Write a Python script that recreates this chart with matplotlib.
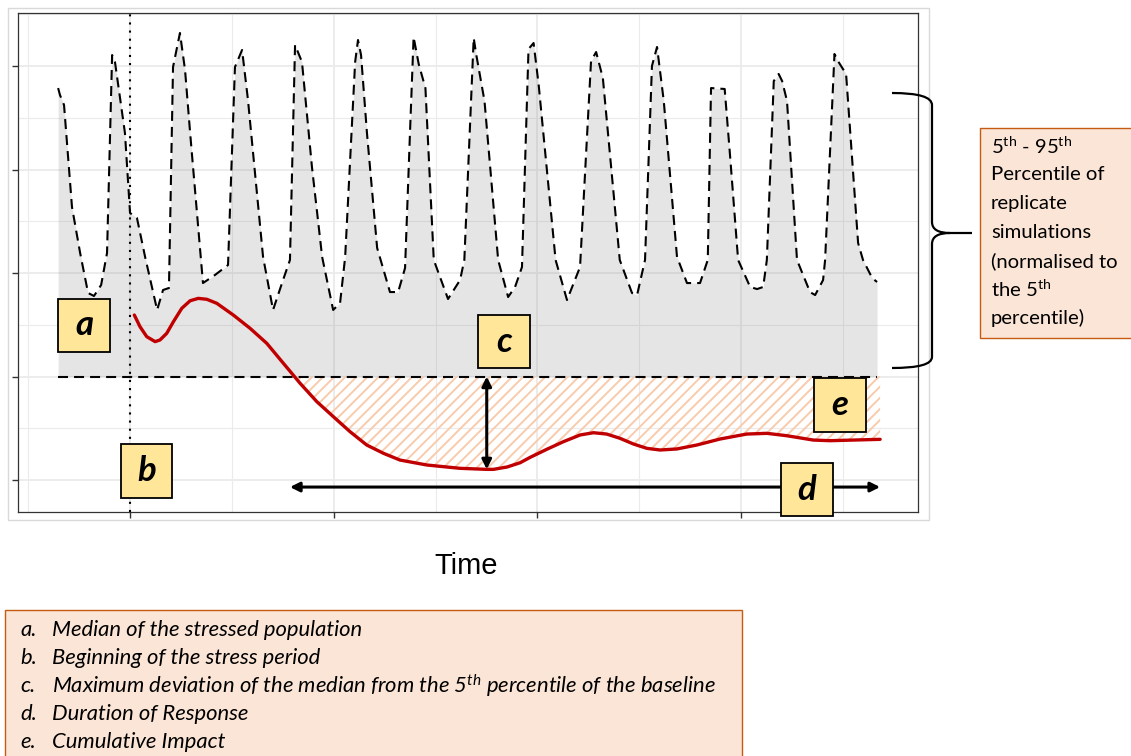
import numpy as np
import matplotlib
matplotlib.use("Agg")
import matplotlib.pyplot as plt
from matplotlib.patches import Rectangle, PathPatch
from matplotlib.path import Path

plt.rcParams['mathtext.fontset'] = 'custom'
plt.rcParams['mathtext.rm'] = 'Lato'
plt.rcParams['mathtext.it'] = 'Lato:italic'
plt.rcParams['hatch.linewidth'] = 1.4

# 95th percentile of the replicate simulations (top of the ribbon)
upper_t = [-0.353, -0.344, -0.324, -0.285, -0.245, -0.206, -0.177, -0.142, -0.113,
           -0.088, -0.074, -0.025, 0.000, 0.034, 0.074, 0.133, 0.162, 0.191,
           0.211, 0.245, 0.270, 0.295, 0.358, 0.417, 0.481,
           0.515, 0.550, 0.579, 0.653, 0.702, 0.751, 0.785,
           0.810, 0.844, 0.893, 0.943, 0.997, 1.031, 1.056, 1.105,
           1.119, 1.134, 1.163, 1.213, 1.276, 1.316, 1.350, 1.375,
           1.392, 1.417, 1.450, 1.491, 1.561, 1.620, 1.641,
           1.687, 1.699, 1.740, 1.807, 1.856, 1.890, 1.924,
           1.956, 1.981, 2.006, 2.089, 2.145, 2.209,
           2.263, 2.288, 2.321, 2.404, 2.464, 2.489, 2.528,
           2.562, 2.587, 2.620, 2.685, 2.734, 2.798, 2.836,
           2.852, 2.919, 2.944, 2.985, 3.044, 3.078, 3.108, 3.126,
           3.160, 3.184, 3.201, 3.225, 3.274, 3.338, 3.363, 3.402, 3.412,
           3.458, 3.475, 3.515, 3.574, 3.598, 3.643, 3.667]
upper_v = [3.787, 3.720, 3.623, 2.638, 2.193, 1.807, 1.778, 1.884, 2.193,
           4.106, 4.039, 3.353, 2.580, 2.531, 2.155, 1.643, 1.836, 1.855,
           3.990, 4.319, 3.961, 3.353, 1.903, 1.981, 2.077,
           3.990, 4.155, 3.671, 2.155, 1.643, 1.932, 2.126,
           4.203, 4.039, 3.024, 2.155, 1.643, 1.710, 2.155, 4.039,
           4.251, 4.106, 3.353, 2.242, 1.816, 1.816, 2.048, 3.396,
           4.280, 4.019, 3.787, 2.126, 1.749, 1.932, 2.126,
           4.271, 4.116, 3.662, 2.126, 1.768, 1.865, 2.058,
           4.164, 4.222, 3.816, 2.126, 1.739, 2.058,
           4.048, 4.135, 3.884, 2.126, 1.807, 1.787, 2.126,
           4.000, 4.184, 3.662, 2.155, 1.903, 1.903, 2.126,
           3.787, 3.778, 3.169, 2.126, 1.865, 1.845, 1.865, 2.126,
           3.855, 3.923, 3.855, 3.662, 2.126, 1.816, 1.787, 1.932, 2.126,
           4.116, 4.048, 3.923, 2.290, 2.126, 1.952, 1.913]

# 5th percentile of the baseline (bottom of the ribbon)
p5_level = 1.0
p5_span = [-0.353, 3.667]

# median of the stressed population
median_t = [0.021, 0.049, 0.082, 0.123, 0.147, 0.180, 0.213, 0.254, 0.295, 0.335,
            0.377, 0.426, 0.507, 0.589, 0.671, 0.753, 0.835, 0.917, 0.998, 1.080,
            1.162, 1.244, 1.325, 1.457, 1.620, 1.751, 1.784, 1.851, 1.915, 1.964,
            2.046, 2.127, 2.209, 2.275, 2.340, 2.405, 2.471, 2.537, 2.602, 2.684,
            2.782, 2.896, 3.027, 3.126, 3.224, 3.354, 3.436, 3.682]
median_v = [1.594, 1.481, 1.385, 1.337, 1.353, 1.417, 1.530, 1.659, 1.732, 1.755,
            1.746, 1.707, 1.594, 1.466, 1.321, 1.127, 0.934, 0.757, 0.612, 0.467,
            0.338, 0.258, 0.193, 0.145, 0.113, 0.103, 0.103, 0.126, 0.167, 0.219,
            0.297, 0.370, 0.435, 0.457, 0.444, 0.403, 0.348, 0.306, 0.290, 0.300,
            0.338, 0.396, 0.444, 0.451, 0.428, 0.386, 0.380, 0.393]

stress_start = 0.0
response_span = [0.785, 3.682]

x_major = [0, 1, 2, 3]
x_minor = [-0.5, 0.5, 1.5, 2.5, 3.5]
y_major = [0, 1, 2, 3, 4]
y_minor = [0.5, 1.5, 2.5, 3.5, 4.5]

legend_items = [
    ("a.", "Median of the stressed population"),
    ("b.", "Beginning of the stress period"),
    ("c.", r"Maximum deviation of the median from the 5$^{\mathit{th}}$ percentile of the baseline"),
    ("d.", "Duration of Response"),
    ("e.", "Cumulative Impact"),
]
side_note = [r"5$^{\mathrm{th}}$ - 95$^{\mathrm{th}}$", "Percentile of", "replicate",
             "simulations", "(normalised to", r"the 5$^{\mathrm{th}}$", "percentile)"]

W, H = 1131, 756
fig = plt.figure(figsize=(W / 100, H / 100), dpi=100)
ax = fig.add_axes([18 / W, (H - 512) / H, 900 / W, 499.3 / H])
ax.set_xlim(-0.55, 3.868)
ax.set_ylim(-0.309, 4.515)

ax.set_xticks(x_major)
ax.set_xticks(x_minor, minor=True)
ax.set_yticks(y_major)
ax.set_yticks(y_minor, minor=True)
ax.grid(which='major', color='#ebebeb', lw=1.3)
ax.grid(which='minor', color='#ebebeb', lw=0.8)
ax.set_axisbelow(True)
ax.tick_params(which='major', length=4, width=1, color='#333333',
               labelbottom=False, labelleft=False)
ax.tick_params(which='minor', length=0)
for s in ax.spines.values():
    s.set_color('#333333')
    s.set_linewidth(0.9)

# ribbon between the 5th and 95th percentiles
ax.fill_between(upper_t, p5_level, upper_v, color='#808080', alpha=0.2, lw=0, zorder=1)
dash = (4.8, 2.9)
ax.plot(upper_t, upper_v, color='black', lw=1.5, dashes=dash, zorder=3)
ax.plot(p5_span, [p5_level, p5_level], color='black', lw=1.5, dashes=dash, zorder=3)

# start of the stress period
ax.axvline(stress_start, color='black', lw=1.5, linestyle=(0, (1, 2.9)), zorder=3)

# cumulative impact: area between the median and the 5th percentile
mt = np.array(median_t)
mv = np.array(median_v)
ax.fill_between(mt, mv, p5_level, where=mv < p5_level, interpolate=True,
                facecolor='none', edgecolor='#f8cbad', hatch='///', lw=0, zorder=2)

ax.plot(mt, mv, color='#c00000', lw=2.4, zorder=4, solid_joinstyle='round',
        solid_capstyle='round')

# maximum deviation and duration arrows
i_min = int(np.argmin(mv))
arrow_kw = dict(arrowstyle='<|-|>', color='black', lw=2.2, mutation_scale=14,
                shrinkA=0, shrinkB=0)
ax.annotate('', xy=(mt[i_min], mv[i_min]), xytext=(mt[i_min], p5_level),
            arrowprops=arrow_kw, zorder=5)
ax.annotate('', xy=(response_span[1], -0.068), xytext=(response_span[0], -0.068),
            arrowprops=arrow_kw, zorder=5)


def letter_box(x0, y0, w, h, letter):
    ax.add_patch(Rectangle((x0, y0), w, h, facecolor='#ffe699', edgecolor='black',
                           lw=1.3, zorder=6, clip_on=False))
    ax.text(x0 + w / 2, y0 + h / 2, letter, ha='center', va='center', fontsize=25,
            family='Lato', weight='bold', style='italic', zorder=7, clip_on=False)


letter_box(-0.353, 1.237, 0.255, 0.512, 'a')
letter_box(-0.044, -0.174, 0.250, 0.522, 'b')
letter_box(1.708, 1.082, 0.256, 0.512, 'c')
letter_box(3.196, -0.348, 0.255, 0.512, 'd')
letter_box(3.358, 0.464, 0.255, 0.522, 'e')

# annotation layer in pixel units
ov = fig.add_axes([0, 0, 1, 1])
ov.set_xlim(0, W)
ov.set_ylim(H, 0)
ov.axis('off')

ov.add_patch(Rectangle((8, 8), 921, 512, fill=False, ec='#d9d9d9', lw=1))

brace = Path([(892, 93), (932, 93), (932, 105), (932, 222), (932, 233), (950, 233),
              (972, 233), (950, 233), (932, 233), (932, 244), (932, 357), (932, 368),
              (892, 368)],
             [Path.MOVETO, Path.CURVE3, Path.CURVE3, Path.LINETO, Path.CURVE3, Path.CURVE3,
              Path.LINETO, Path.MOVETO, Path.CURVE3, Path.CURVE3, Path.LINETO,
              Path.CURVE3, Path.CURVE3])
ov.add_patch(PathPatch(brace, fill=False, ec='black', lw=1.6))

ov.add_patch(Rectangle((980, 128), 170, 210, fc='#fbe5d6', ec='#c55a11', lw=1))
for k, line in enumerate(side_note):
    ov.text(991, 146 + 28.7 * k, line, ha='left', va='center', fontsize=14.6, family='Lato')

ov.text(466, 566, "Time", ha='center', va='center', fontsize=21, family='Liberation Sans')

ov.add_patch(Rectangle((5, 610), 737, 170, fc='#fbe5d6', ec='#c55a11', lw=1))
for k, (tag, desc) in enumerate(legend_items):
    y = 630 + 28 * k
    ov.text(20, y, tag, ha='left', va='center', fontsize=15.8, family='Lato', style='italic')
    ov.text(52, y, desc, ha='left', va='center', fontsize=15.8, family='Lato', style='italic')

fig.savefig('out.png', dpi=100)
